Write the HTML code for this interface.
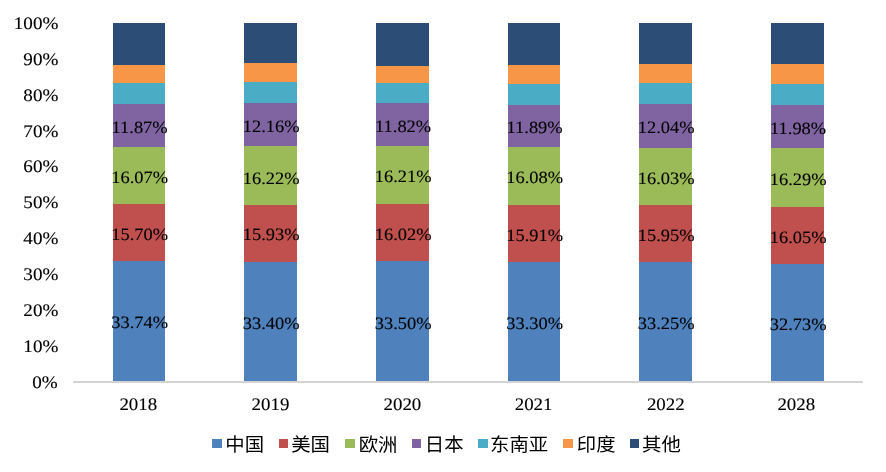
<!DOCTYPE html>
<html lang="zh"><head><meta charset="utf-8"><title>chart</title>
<style>html,body{margin:0;padding:0;background:#fff}svg{display:block}.ax,.dl{font-family:"Liberation Serif","Noto Serif CJK SC",serif;font-size:18.67px;fill:#000;stroke:#000;stroke-width:0.12px;text-rendering:geometricPrecision}.lg{font-family:"Liberation Sans","Noto Sans CJK SC",sans-serif;font-size:18.67px;fill:#000}</style></head><body>
<svg width="886" height="472" viewBox="0 0 886 472">
<rect width="886" height="472" fill="#fff"/>
<rect x="113" y="261" width="52" height="121" fill="#4F81BD"/>
<rect x="113" y="204" width="52" height="57" fill="#C0504D"/>
<rect x="113" y="147" width="52" height="57" fill="#9BBB59"/>
<rect x="113" y="104" width="52" height="43" fill="#8064A2"/>
<rect x="113" y="83" width="52" height="21" fill="#4BACC6"/>
<rect x="113" y="65" width="52" height="18" fill="#F79646"/>
<rect x="113" y="23" width="52" height="42" fill="#2C4D75"/>
<text class="dl" transform="translate(139.60,327.60) scale(1,0.944)" style="font-size:18.4px" text-anchor="middle">33.74%</text>
<text class="dl" transform="translate(139.60,240.10) scale(1,0.944)" style="font-size:18.4px" text-anchor="middle">15.70%</text>
<text class="dl" transform="translate(139.60,183.10) scale(1,0.944)" style="font-size:18.4px" text-anchor="middle">16.07%</text>
<text class="dl" transform="translate(139.60,132.60) scale(1,0.944)" style="font-size:18.4px" text-anchor="middle">11.87%</text>
<text class="ax" transform="translate(138.30,410.1) scale(1,0.93)" style="font-size:18.9px" text-anchor="middle">2018</text>
<rect x="244" y="262" width="53" height="120" fill="#4F81BD"/>
<rect x="244" y="205" width="53" height="57" fill="#C0504D"/>
<rect x="244" y="146" width="53" height="59" fill="#9BBB59"/>
<rect x="244" y="103" width="53" height="43" fill="#8064A2"/>
<rect x="244" y="82" width="53" height="21" fill="#4BACC6"/>
<rect x="244" y="63" width="53" height="19" fill="#F79646"/>
<rect x="244" y="23" width="53" height="40" fill="#2C4D75"/>
<text class="dl" transform="translate(271.10,328.50) scale(1,0.944)" style="font-size:18.4px" text-anchor="middle">33.40%</text>
<text class="dl" transform="translate(271.10,239.60) scale(1,0.944)" style="font-size:18.4px" text-anchor="middle">15.93%</text>
<text class="dl" transform="translate(271.10,183.50) scale(1,0.944)" style="font-size:18.4px" text-anchor="middle">16.22%</text>
<text class="dl" transform="translate(271.10,132.00) scale(1,0.944)" style="font-size:18.4px" text-anchor="middle">12.16%</text>
<text class="ax" transform="translate(270.50,410.1) scale(1,0.93)" style="font-size:18.9px" text-anchor="middle">2019</text>
<rect x="376" y="261" width="53" height="121" fill="#4F81BD"/>
<rect x="376" y="204" width="53" height="57" fill="#C0504D"/>
<rect x="376" y="146" width="53" height="58" fill="#9BBB59"/>
<rect x="376" y="103" width="53" height="43" fill="#8064A2"/>
<rect x="376" y="83" width="53" height="20" fill="#4BACC6"/>
<rect x="376" y="66" width="53" height="17" fill="#F79646"/>
<rect x="376" y="23" width="53" height="43" fill="#2C4D75"/>
<text class="dl" transform="translate(403.10,328.60) scale(1,0.944)" style="font-size:18.4px" text-anchor="middle">33.50%</text>
<text class="dl" transform="translate(403.10,240.10) scale(1,0.944)" style="font-size:18.4px" text-anchor="middle">16.02%</text>
<text class="dl" transform="translate(403.10,181.80) scale(1,0.944)" style="font-size:18.4px" text-anchor="middle">16.21%</text>
<text class="dl" transform="translate(403.10,131.60) scale(1,0.944)" style="font-size:18.4px" text-anchor="middle">11.82%</text>
<text class="ax" transform="translate(402.40,410.1) scale(1,0.93)" style="font-size:18.9px" text-anchor="middle">2020</text>
<rect x="508" y="262" width="52" height="120" fill="#4F81BD"/>
<rect x="508" y="205" width="52" height="57" fill="#C0504D"/>
<rect x="508" y="147" width="52" height="58" fill="#9BBB59"/>
<rect x="508" y="105" width="52" height="42" fill="#8064A2"/>
<rect x="508" y="84" width="52" height="21" fill="#4BACC6"/>
<rect x="508" y="65" width="52" height="19" fill="#F79646"/>
<rect x="508" y="23" width="52" height="42" fill="#2C4D75"/>
<text class="dl" transform="translate(534.60,328.60) scale(1,0.944)" style="font-size:18.4px" text-anchor="middle">33.30%</text>
<text class="dl" transform="translate(534.60,241.20) scale(1,0.944)" style="font-size:18.4px" text-anchor="middle">15.91%</text>
<text class="dl" transform="translate(534.60,183.10) scale(1,0.944)" style="font-size:18.4px" text-anchor="middle">16.08%</text>
<text class="dl" transform="translate(534.60,133.20) scale(1,0.944)" style="font-size:18.4px" text-anchor="middle">11.89%</text>
<text class="ax" transform="translate(533.60,410.1) scale(1,0.93)" style="font-size:18.9px" text-anchor="middle">2021</text>
<rect x="639" y="262" width="53" height="120" fill="#4F81BD"/>
<rect x="639" y="205" width="53" height="57" fill="#C0504D"/>
<rect x="639" y="148" width="53" height="57" fill="#9BBB59"/>
<rect x="639" y="104" width="53" height="44" fill="#8064A2"/>
<rect x="639" y="83" width="53" height="21" fill="#4BACC6"/>
<rect x="639" y="64" width="53" height="19" fill="#F79646"/>
<rect x="639" y="23" width="53" height="41" fill="#2C4D75"/>
<text class="dl" transform="translate(666.10,328.50) scale(1,0.944)" style="font-size:18.4px" text-anchor="middle">33.25%</text>
<text class="dl" transform="translate(666.10,240.80) scale(1,0.944)" style="font-size:18.4px" text-anchor="middle">15.95%</text>
<text class="dl" transform="translate(666.10,184.00) scale(1,0.944)" style="font-size:18.4px" text-anchor="middle">16.03%</text>
<text class="dl" transform="translate(666.10,133.20) scale(1,0.944)" style="font-size:18.4px" text-anchor="middle">12.04%</text>
<text class="ax" transform="translate(665.80,410.1) scale(1,0.93)" style="font-size:18.9px" text-anchor="middle">2022</text>
<rect x="771" y="264" width="53" height="118" fill="#4F81BD"/>
<rect x="771" y="207" width="53" height="57" fill="#C0504D"/>
<rect x="771" y="148" width="53" height="59" fill="#9BBB59"/>
<rect x="771" y="105" width="53" height="43" fill="#8064A2"/>
<rect x="771" y="84" width="53" height="21" fill="#4BACC6"/>
<rect x="771" y="64" width="53" height="20" fill="#F79646"/>
<rect x="771" y="23" width="53" height="41" fill="#2C4D75"/>
<text class="dl" transform="translate(798.10,329.80) scale(1,0.944)" style="font-size:18.4px" text-anchor="middle">32.73%</text>
<text class="dl" transform="translate(798.10,243.00) scale(1,0.944)" style="font-size:18.4px" text-anchor="middle">16.05%</text>
<text class="dl" transform="translate(798.10,185.30) scale(1,0.944)" style="font-size:18.4px" text-anchor="middle">16.29%</text>
<text class="dl" transform="translate(798.10,133.90) scale(1,0.944)" style="font-size:18.4px" text-anchor="middle">11.98%</text>
<text class="ax" transform="translate(796.30,410.1) scale(1,0.93)" style="font-size:18.9px" text-anchor="middle">2028</text>
<rect x="73" y="381" width="790" height="2" fill="#D3D3D3"/>
<text class="ax" transform="translate(57.65,387.80) scale(1,0.93)" style="font-size:19.1px" text-anchor="end">0%</text>
<text class="ax" transform="translate(58.35,351.90) scale(1,0.93)" style="font-size:19.1px" text-anchor="end">10%</text>
<text class="ax" transform="translate(58.35,316.00) scale(1,0.93)" style="font-size:19.1px" text-anchor="end">20%</text>
<text class="ax" transform="translate(58.35,280.10) scale(1,0.93)" style="font-size:19.1px" text-anchor="end">30%</text>
<text class="ax" transform="translate(58.35,244.20) scale(1,0.93)" style="font-size:19.1px" text-anchor="end">40%</text>
<text class="ax" transform="translate(58.35,208.30) scale(1,0.93)" style="font-size:19.1px" text-anchor="end">50%</text>
<text class="ax" transform="translate(58.35,172.40) scale(1,0.93)" style="font-size:19.1px" text-anchor="end">60%</text>
<text class="ax" transform="translate(58.35,136.50) scale(1,0.93)" style="font-size:19.1px" text-anchor="end">70%</text>
<text class="ax" transform="translate(58.35,100.60) scale(1,0.93)" style="font-size:19.1px" text-anchor="end">80%</text>
<text class="ax" transform="translate(58.35,64.70) scale(1,0.93)" style="font-size:19.1px" text-anchor="end">90%</text>
<text class="ax" transform="translate(58.35,28.80) scale(1,0.93)" style="font-size:19.1px" text-anchor="end">100%</text>
<rect x="212" y="439" width="10" height="9" fill="#4F81BD"/>
<text class="lg" transform="translate(244.67,451) scale(1.04,1)" text-anchor="middle">中国</text>
<rect x="279" y="439" width="9" height="9" fill="#C0504D"/>
<text class="lg" transform="translate(310.57,451) scale(1.04,1)" text-anchor="middle">美国</text>
<rect x="345" y="439" width="10" height="9" fill="#9BBB59"/>
<text class="lg" transform="translate(378.07,451) scale(1.04,1)" text-anchor="middle">欧洲</text>
<rect x="412" y="439" width="9" height="9" fill="#8064A2"/>
<text class="lg" transform="translate(444.27,451) scale(1.04,1)" text-anchor="middle">日本</text>
<rect x="478" y="439" width="10" height="9" fill="#4BACC6"/>
<text class="lg" transform="translate(519.11,451) scale(1.04,1)" text-anchor="middle">东南亚</text>
<rect x="563" y="439" width="10" height="9" fill="#F79646"/>
<text class="lg" transform="translate(596.17,451) scale(1.04,1)" text-anchor="middle">印度</text>
<rect x="630" y="439" width="9" height="9" fill="#2C4D75"/>
<text class="lg" transform="translate(661.47,451) scale(1.04,1)" text-anchor="middle">其他</text>
</svg></body></html>
